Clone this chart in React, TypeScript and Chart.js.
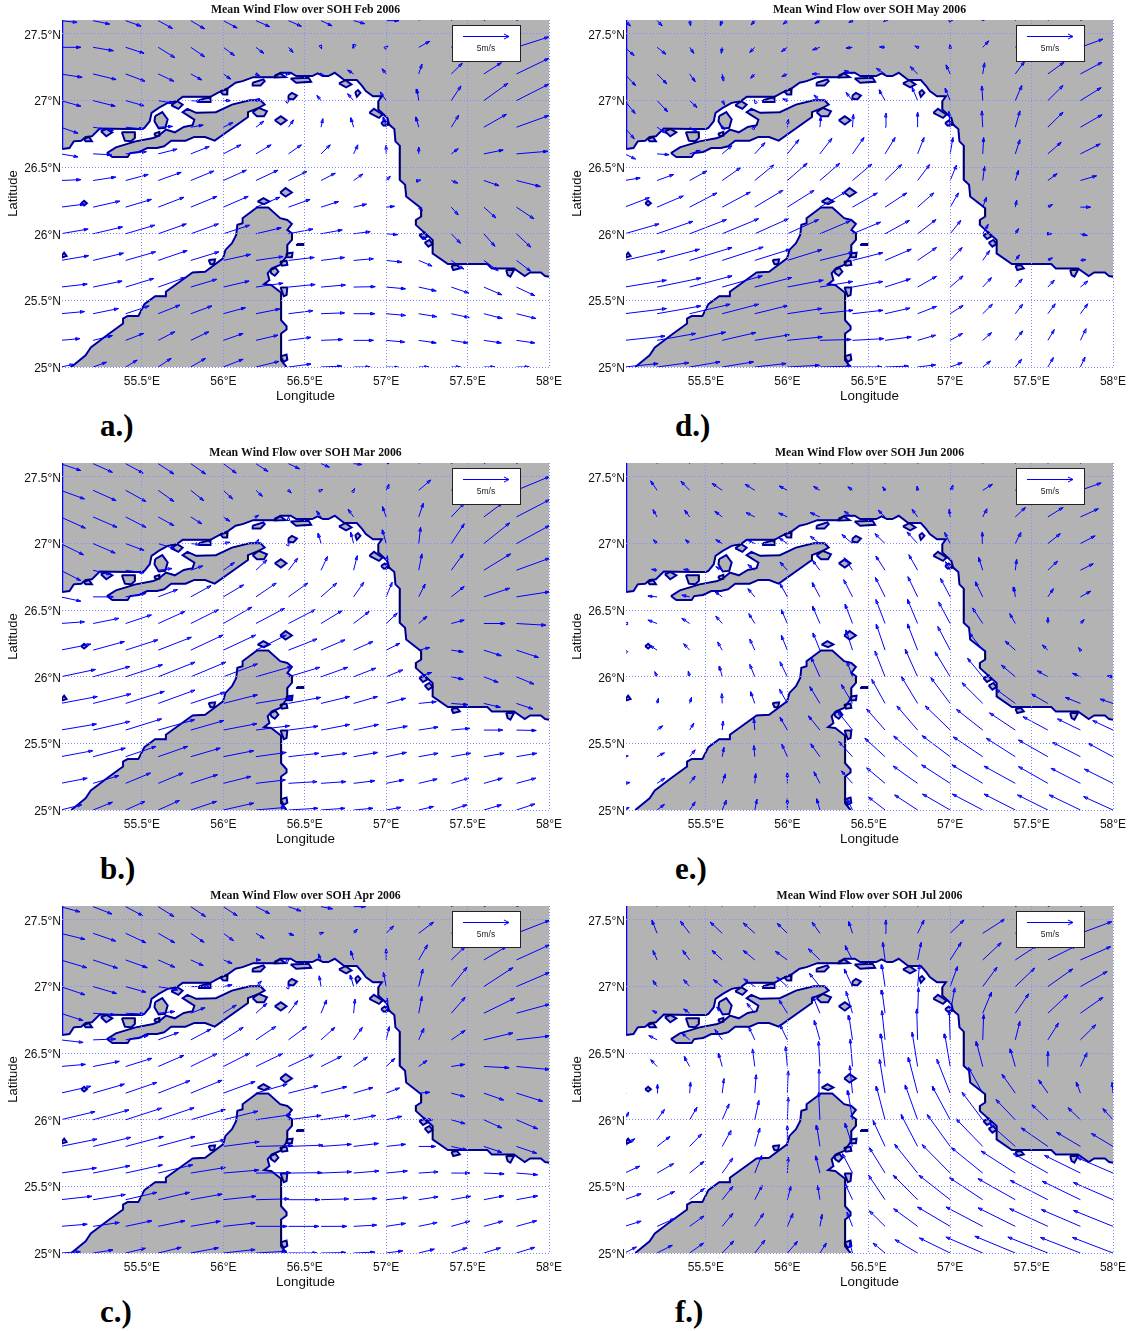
import React, { useEffect, useRef } from "react";
import { Chart, registerables } from "chart.js";

Chart.register(...registerables);

const LATS = [27.6, 27.4, 27.2, 27.0, 26.8, 26.6, 26.4, 26.2, 26.0, 25.8, 25.6, 25.4, 25.2, 25.0];
const LONS = [55, 55.2, 55.4, 55.6, 55.8, 56, 56.2, 56.4, 56.6, 56.8, 57, 57.2, 57.4, 57.6, 57.8, 58];
const LON_TICKS = [55.5, 56, 56.5, 57, 57.5, 58];
const LAT_TICKS = [25, 25.5, 26, 26.5, 27, 27.5];

// wind vectors: u,v pairs in m/s per row (north to south), per column (west to east)
const FEB = [
  [1.8,-.2,1.8,-.4,1.7,-.65,1.55,-.9,1.5,-.95,1.5,-.85,1.5,-.7,1.4,-.65,1.2,-.6,1.2,-.35,1.4,0,.5,.5,1,1,1.5,1,2,1],
  [2.2,0,2.2,-.4,2,-.7,1.8,-1.2,1.5,-1.1,1.2,-.95,.85,-.7,.5,-.6,.1,-.2,-.05,-.1,.2,.15,1.2,.7,1.5,1,2.5,1.2,3.5,1.2],
  [2.35,-.4,2.5,-.65,2.1,-.85,1.7,-.85,1.2,-.7,.8,-.6,.4,-.2,.2,0,-.1,.1,-.65,.45,-.45,.6,.35,1.15,1.2,1.25,1.9,1.3,3.5,1.8],
  [2.2,-.65,2.4,-.65,2,-.6,1.6,-.3,1.15,-.1,.8,0,.4,.25,.1,.1,-.45,.6,-.65,.8,-.65,1,-.2,1.35,1.05,1.7,2.6,2,3.5,1.9],
  [1.9,-.7,2.2,-.35,1.95,-.2,1.55,.1,1.35,.25,1.05,.55,.85,.7,.55,.85,.2,1,-.3,1.1,-.3,1.2,-.3,1.2,.8,1.4,2.45,1.5,3.5,1.35],
  [1.9,-.35,2,-.1,2.25,.25,2.05,.55,2,.85,1.9,1.05,1.65,1.05,1.4,1.05,1,1.05,.45,1.05,0,1,0,.8,.75,.6,2.1,.45,3.4,.3],
  [2.2,.1,2.45,.4,2.45,.7,2.5,.95,2.5,1.1,2.5,1.2,2.4,1.2,2,1.05,1.55,.85,1,.75,.45,.5,.2,.05,.7,-.3,1.65,-.6,2.6,-.7],
  [2.6,.35,2.9,.7,2.8,.9,2.8,1.15,2.85,1.25,2.7,1.25,2.6,1.15,2.35,.9,1.9,.65,1.4,.35,.9,.1,.4,-.4,.75,-.9,1.3,-1.25,1.9,-1.35],
  [3,.55,3.2,.8,3.15,1,3.05,1.15,3,1.15,2.85,1,2.75,.7,2.65,.55,2.3,.45,1.8,.25,1.25,-.1,.8,-.7,1,-1.1,1.2,-1.45,1.55,-1.55],
  [3.05,.55,3.3,.85,3.25,1,3.15,1.15,3.05,1,2.95,.7,2.95,.45,2.8,.35,2.55,.35,2.15,.2,1.7,-.2,1.45,-.65,1.35,-1,1.55,-1.2,1.55,-1.25],
  [2.9,.35,3.15,.7,3.05,1,2.9,1.1,2.8,.9,2.8,.7,2.95,.45,2.9,.3,2.65,.25,2.35,.05,2.1,-.2,1.9,-.45,1.9,-.7,1.95,-.9,2,-1],
  [2.6,.25,2.75,.6,2.55,.9,2.35,1,2.3,.9,2.4,.7,2.6,.55,2.65,.35,2.55,.1,2.3,0,2.1,-.2,1.95,-.35,1.95,-.45,2,-.55,2.1,-.55],
  [2.1,.2,2.1,.55,1.95,.8,1.8,1,1.95,1,2.15,.8,2.4,.6,2.45,.35,2.35,.1,2.15,0,2,-.2,1.9,-.3,1.8,-.3,1.9,-.3,2,-.3],
  [1.45,.3,1.45,.55,1.25,.8,1.4,1,1.6,1,2.15,.9,2.5,.65,2.45,.35,2.25,.1,1.8,0,1.4,-.05,1.1,0,1,0,1.2,0,1.4,0],
];
const MAR = [
  [2.2,-.8,2.1,-1,1.9,-1.1,1.7,-1.2,1.6,-1.2,1.4,-1.1,1.3,-.9,1.2,-.6,.9,-.4,.9,-.1,.5,.3,1,1,1.2,1,1.5,1,2,1.2],
  [2.6,-1,2.5,-1.2,2.2,-1.3,1.7,-1.3,1.4,-1.2,1,-1,.7,-.7,.3,-.3,.2,.1,.1,.2,.3,.7,1.3,1.2,1.6,1.5,2.5,1.8,3.6,1.6],
  [2.7,-1.3,2.6,-1.2,2.2,-1.2,1.7,-1,1.2,-.8,.7,-.5,.3,.2,0,.05,-.5,.7,-.6,.9,-.4,1.2,.5,1.6,1.4,1.6,2,1.6,3.6,2],
  [2.5,-1.3,2.4,-1.1,2,-.8,1.8,-.6,1,-.1,.7,.15,.3,.5,.1,.2,-.3,1.2,-.3,1.3,-.4,1.6,.2,1.9,1.4,2.3,2.8,2.4,3.6,2.1],
  [2.2,-1.2,1.9,-.5,2,-.3,1.5,.2,1.3,.5,1.2,.9,1.2,1.2,1,1.4,.7,1.6,.4,1.7,.1,1.7,.35,1.9,1.3,1.9,2.9,1.9,3.6,1.4],
  [2.2,-.5,2.2,0,2.2,.4,2.1,.85,2.2,1.3,2.2,1.4,2.2,1.6,2.1,1.6,1.7,1.6,1.1,1.7,.65,1.7,.7,1.5,1.4,1.2,2.8,1,3.6,.6],
  [2.6,.2,2.8,.6,2.8,1,2.9,1.4,3,1.6,3.1,1.9,3.1,1.75,2.9,1.6,2.3,1.5,1.7,1.4,1.2,1.2,.9,.85,1.4,.4,2.3,0,3.2,-.2],
  [3.3,.7,3.4,1,3.5,1.2,3.6,1.5,3.5,1.75,3.5,1.75,3.3,1.75,3.1,1.3,2.6,1.2,2.1,1,1.5,.8,1.2,.3,1.3,-.2,1.9,-.65,2.4,-.85],
  [3.8,.85,4,1.2,4,1.4,4,1.7,3.8,1.7,3.7,1.5,3.9,1.2,3.4,1.1,2.9,1.1,2.4,1,1.8,.8,1.4,.5,1.3,-.3,1.55,-.65,1.9,-.85],
  [4,.8,4.1,1.1,4.2,1.4,4,1.55,3.7,1.3,3.7,1,4,.7,3.5,.7,3.1,.8,2.6,.8,2.1,.6,1.9,.2,1.8,-.15,1.8,-.45,1.8,-.65],
  [3.9,.7,4,1,3.9,1.3,3.95,1.2,3.6,1.1,3.65,.75,3.65,.5,3.2,.45,3.1,.65,2.7,.65,2.3,.45,2.1,.35,2,.2,2.05,0,2.15,-.05],
  [3.5,.7,3.5,1,3.3,1.2,3.2,1.2,3.2,1,3.3,.7,3.3,.5,3.3,.4,2.8,.4,2.6,.5,2.2,.5,2.1,.4,2.1,.4,2.2,.4,2.2,.4],
  [2.9,.6,2.8,.9,2.7,1.2,2.7,1.2,2.9,1,3,.8,3.2,.4,3.1,.2,2.7,.2,2.3,.3,1.9,.4,2,.5,1.9,.6,2,.6,2.1,.6],
  [2.3,.6,2.1,.9,2.1,1,2.3,1.1,2.8,1,3.3,.8,3.2,.3,3.2,.2,2.6,.2,2.1,.2,1.6,.3,1.6,.4,1.7,.6,1.9,.6,2,.7],
];
const APR = [
  [2.1,-.6,2.05,-.85,1.85,-1.05,1.7,-1.15,1.6,-1.15,1.5,-1.05,1.5,-.8,1.35,-.5,1.25,-.25,1.3,0,.5,.5,1,1,1.5,1,2,1,2.5,1],
  [2.65,-.7,2.45,-.9,2.2,-1.1,1.8,-1.1,1.45,-1.05,1.1,-.85,.9,-.6,.6,-.25,.3,.1,.4,.5,.8,.85,1.6,1.3,1.7,1.5,2.5,1.7,3.6,1.5],
  [2.85,-.9,2.65,-.95,2.35,-.9,1.8,-.85,1.35,-.65,.95,-.4,.5,0,.1,.1,-.3,.7,-.3,1.05,0,1.3,.95,1.75,1.5,1.55,2.45,1.55,3.6,1.75],
  [2.65,-.95,2.55,-.8,2.2,-.65,2.1,-.4,2.1,0,.95,.2,.6,.65,.1,.2,-.2,1.25,-.35,1.35,-.3,1.65,.45,2.05,1.7,2.25,3.15,2.2,3.6,1.65],
  [2.45,-.85,2.4,-.2,2.05,-.1,1.8,.2,1.55,.65,1.4,.95,1.2,1.15,1,1.45,.6,1.55,.15,1.65,.1,1.75,.35,1.95,1.5,1.85,3.35,1.75,3.6,1.05],
  [2.45,-.3,2.45,.1,2.45,.5,2.2,.85,2.2,1.25,2.15,1.45,2.15,1.55,1.95,1.55,1.5,1.45,.95,1.45,.35,1.55,.55,1.35,1.5,1.1,3.15,.8,3.6,.45],
  [2.7,.25,2.85,.6,2.85,.95,2.8,1.3,2.85,1.5,2.85,1.55,2.9,1.5,2.7,1.35,2.25,1.2,1.5,1.1,.95,.95,.9,.7,1.45,.25,2.75,-.15,3.6,-.35],
  [3.3,.8,3.4,1.05,3.4,1.25,3.45,1.45,3.4,1.5,3.45,1.35,3.4,1.05,3.2,.85,2.8,.75,2.1,.65,1.45,.6,1.2,.1,1.45,-.4,2.15,-.8,2.85,-.95],
  [3.75,.95,3.9,1.15,3.9,1.35,3.9,1.4,3.75,1.2,3.75,1,3.8,.6,3.55,.5,3.1,.5,2.4,.5,1.7,.4,1.5,0,1.5,-.45,1.95,-.95,2.3,-1.05],
  [3.95,.85,4.1,1.05,4.1,1.15,4,1.15,3.7,.75,3.9,.55,4,.1,3.75,.15,3.3,.25,2.7,.35,2.1,.25,1.85,0,1.7,-.4,1.95,-.7,2.2,-.8],
  [3.9,.6,4,.85,4,.95,3.75,.95,3.75,.65,3.85,.35,3.8,.05,3.65,.05,3.3,.15,2.75,.25,2.3,.25,2.1,.15,2,0,2.2,-.1,2.3,-.2],
  [3.4,.4,3.5,.6,3.4,.85,3.4,.85,3.4,.65,3.55,.4,3.6,.1,3.4,0,3,.1,2.55,.15,2.3,.25,2.1,.35,2.1,.4,2.15,.45,2.3,.45],
  [2.9,.25,2.85,.45,2.85,.65,2.9,.65,3.2,.6,3.45,.4,3.4,0,3.3,0,2.8,0,2.5,.15,2.1,.35,2,.45,2,.6,2.05,.6,2.2,.65],
  [2.15,.15,2.15,.35,2.15,.55,2.5,.65,3,.6,3.45,.4,3.3,.2,3.1,0,2.7,.05,2.3,.1,1.8,.25,1.7,.45,1.7,.6,1.8,.6,2,.65],
];
const MAY = [
  [.65,-.6,.55,-.6,.1,-.6,-.2,-.6,-.4,-.5,-.45,-.4,-.55,-.3,-.4,-.2,-.15,-.1,0,0,.3,.1,.1,.5,.6,.8,1,1,1.8,1],
  [1.05,-.95,.95,-.8,.45,-.7,-.1,-.7,-.55,-.6,-.65,-.5,-.8,-.3,-.7,-.1,-.6,.05,-.3,.15,0,.35,.65,.75,1,1,1.7,1.2,2.45,.95],
  [1.2,-1.35,1.05,-1.15,.6,-.9,.1,-.8,-.45,-.5,-.6,-.3,-.85,0,-.9,.4,-.95,.65,-.8,.85,-.45,1.05,.2,1.3,1,1.45,1.75,1.35,2.35,1.35],
  [1.15,-1.5,1.15,-1.3,.8,-.8,.25,-.5,-.05,.1,-.5,.2,-.65,.65,-.7,.95,-.65,1.25,-.6,1.55,-.55,1.45,-.1,1.7,.7,1.75,1.65,1.75,2.25,1.5],
  [1.05,-1.35,1,-.7,.8,-.5,.3,-.25,.1,.1,.1,.95,.1,1.25,.1,1.5,.1,1.65,0,1.75,-.15,1.85,-.1,1.9,.5,1.9,1.65,1.75,2.35,1.45],
  [1.2,-.6,1.3,-.1,1.15,.4,1.05,.95,1.1,1.3,1.25,1.65,1.3,1.8,1.25,1.9,1.1,1.9,.7,1.9,.3,1.9,.1,1.9,.5,1.65,1.45,1.35,2.15,1.15],
  [1.7,.3,1.8,.7,1.85,1.1,2,1.5,2.05,1.8,2.15,2,2.15,2,2.1,1.9,1.8,1.85,1.3,1.85,.7,1.8,.2,1.65,.35,1.2,1,.8,1.75,.55],
  [2.7,1.1,2.85,1.3,2.95,1.65,3.05,1.75,3.05,1.95,2.9,1.95,2.85,1.8,2.7,1.65,2.35,1.65,1.75,1.65,.9,1.65,.4,1.15,.15,.8,.5,.3,1.1,0],
  [3.75,1.15,3.9,1.45,4,1.65,3.95,1.75,3.65,1.75,3.4,1.65,3.3,1.5,3.05,1.35,2.65,1.55,2,1.65,1.15,1.55,.6,1.1,.35,.6,.4,0,.75,-.2],
  [4.4,1.1,4.6,1.3,4.6,1.5,4.45,1.55,3.85,1.3,3.75,1.25,3.6,.95,3.3,.9,2.85,1.3,2.05,1.5,1.3,1.5,.75,1.15,.45,.65,.5,.3,.6,.1],
  [4.55,.8,4.75,1.05,4.6,1.3,4.35,1.3,4,1.1,3.9,.8,3.55,.65,3.3,.65,2.75,.95,2.05,1.25,1.4,1.3,.95,1.1,.75,.95,.7,.8,.8,.7],
  [4.55,.6,4.75,.9,4.4,1.1,3.95,1.1,3.6,.95,3.75,.6,3.6,.4,3.3,.4,2.7,.65,2.05,.85,1.4,.95,1.05,1.1,.8,1.1,.8,1.15,.8,1.15],
  [4.4,.5,4.2,.8,3.9,.95,3.65,.9,3.75,.65,3.8,.4,3.4,.1,3.4,.2,2.85,.4,1.95,.6,1.35,.8,.95,.9,.8,1.1,.7,1.25,.6,1.35],
  [3.65,.4,3.45,.5,3.3,.6,3.4,.6,3.4,.4,3.5,.2,3.4,.1,3.2,0,2.55,.1,1.95,.25,1.3,.5,.85,.7,.7,.9,.6,1.1,.5,1.15],
];
const JUN = [
  [-.1,.5,-.3,.6,-.3,.6,-.3,.6,-.3,.6,-.3,.6,-.2,.6,-.1,.6,0,.6,.1,.6,.2,.6,.3,.6,.4,.6,.5,.6,.5,.6,0,0],
  [-.2,.3,-.7,1.1,-.95,1.05,-1.1,.8,-1.05,.7,-.9,.5,-.7,.45,-.5,.4,-.25,.4,-.05,.5,.3,.6,1.05,.7,1.3,.9,1.9,1,2.25,.85,0,0],
  [-.1,.3,-.45,.85,-.55,.8,-.8,.65,-.95,.5,-.95,.45,-1.05,.5,-.9,.65,-.75,.8,-.6,.9,-.1,.9,.45,.95,1.1,1.1,1.65,1.1,1.95,.95,0,0],
  [0,.1,-.4,.45,-.45,.45,-.7,.45,-.8,.45,-.9,.65,-1.05,.85,-1.15,1.05,-1.1,1.15,-1.15,1.35,-.6,1.3,-.05,1.35,.6,1.3,1.35,1.15,1.6,.9,0,0],
  [0,.05,-.6,.1,-.65,.1,-.7,.4,-.75,.65,-.8,.95,-.8,1.15,-.9,1.45,-1,1.65,-.95,1.8,-.5,1,-.45,1.5,.15,1.25,1.05,1.05,1.4,.75,0,0],
  [0,0,-1,.1,-.85,.2,-.8,.6,-.75,.95,-.8,1.55,-.85,1.65,-.95,2,-1.05,2.25,-1.05,2.35,-1.05,2.15,-.8,1.75,-.15,1.15,.6,.95,1.1,.65,0,0],
  [-.1,0,-1,.4,-.85,.6,-.7,.85,-.65,1.15,-.65,1.6,-.8,2,-.8,2.25,-1,2.8,-1.1,2.8,-1.25,2.5,-1.1,1.8,-.6,1.15,0,.7,.4,.45,0,0],
  [-.05,.05,-.8,.55,-.65,.75,-.5,.95,-.55,1.3,-.65,1.7,-.75,2,-.7,2.35,-.95,3,-1.1,3.05,-1.35,2.75,-1.45,2,-1.1,1.05,-.6,.6,-.2,.3,0,0],
  [0,.1,-.25,.6,-.15,.65,-.3,1.25,-.55,1.45,-.8,1.75,-.95,2.25,-.6,1.75,-1.1,3,-1.35,3.2,-1.65,2.9,-1.65,2.15,-1.5,1.35,-1.15,.7,-.85,.4,-.6,.1],
  [0,.1,.15,.6,.2,.7,-.05,1.15,-.45,1.35,-.85,1.65,-1.1,1.95,-1.2,2.2,-1.45,2.8,-1.75,3.1,-2.1,3,-2.25,2.4,-2.1,1.65,-1.8,1.1,-1.65,.7,-1.4,.5],
  [.05,.05,.6,.5,.45,.8,.1,1.05,-.1,1.35,-.8,1.5,-1.25,1.65,-1.6,2.15,-2,2.45,-2.25,2.8,-2.7,2.8,-2.85,2.4,-2.8,2,-2.7,1.55,-2.5,1.3,-2.2,1.1],
  [.4,.1,.8,.45,.6,.8,.2,1.1,-.1,1.3,-.6,1.45,-1,1.5,-1.5,1.75,-2.2,2.15,-2.6,2.4,-3.05,2.45,-3.2,2.3,-3.15,2.15,-3.2,1.95,-3,1.65,-2.7,1.55],
  [.6,.1,.85,.6,.6,.85,.35,1.1,.1,1.15,0,1.25,-.65,1.35,-1.2,1.45,-2,1.8,-2.65,2,-3.1,2.15,-3.35,2.15,-3.4,2,-3.2,1.95,-3.2,1.75,-3.1,1.65],
  [.5,.3,.8,.65,.6,.95,.45,1.15,.25,1.25,0,1.3,-.35,1.3,-.6,1.35,-1.8,1.5,-2.5,1.75,-3,1.85,-3.3,1.85,-3.4,1.85,-3.3,1.75,-3.4,1.75,-3.2,1.55],
];
const JUL = [
  [-.1,.8,-.4,1,-.6,1,-.6,1,-.6,1,-.4,1,-.2,1,0,1,.3,1,.5,1,.8,1,1.2,1,1.5,1,1.8,1,2,1,0,0],
  [0,.3,-.55,1.5,-1,1.4,-1.3,1.3,-1.25,1.2,-1.1,1.15,-.85,1.3,-.4,1.35,.1,1.55,.7,1.55,1.5,1.55,2.4,1.65,2.6,1.7,3,1.7,3.4,1.35,0,0],
  [0,.8,-.45,1.1,-.75,1.1,-1.1,1.1,-1.25,1.1,-1.3,1,-1.25,1.3,-.8,1.65,-.25,2.05,.4,2.05,1.2,2.05,2,2,2.4,1.7,3.1,1.65,3.3,1.55,0,0],
  [0,.2,-.45,.7,-.65,.8,-.95,.8,-1.2,.9,-1.15,1.1,-1.15,1.55,-.9,2.05,-.35,2.55,.2,2.55,.8,2.35,1.55,2.25,2.1,2.15,2.7,2.05,2.9,1.75,0,0],
  [0,.05,-.5,.3,-.65,.5,-.6,.7,-.85,1.15,-.9,1.55,-.75,1.95,-.7,2.55,-.35,2.7,.1,3,.5,2.95,.95,2.45,1.45,2.25,2.15,2.15,2.45,1.85,0,0],
  [0,0,-.9,.5,-.85,.8,-.8,1.2,-.65,1.5,-.8,1.75,-.6,2.25,-.4,2.85,-.35,3.4,-.1,3.6,-.1,3.4,.1,2.95,.5,2.15,1.15,1.95,1.65,1.75,0,0],
  [0,0,-.7,.8,-.6,1.15,-.4,1.55,-.25,2.05,-.2,2.35,-.15,2.95,-.25,3.2,-.45,3.8,-.6,4,-.6,3.8,-.7,2.9,-.55,2.05,0,1.75,.7,1.6,0,0],
  [0,.4,.05,1.05,.1,1.3,.2,1.7,.15,2.15,.1,2.6,-.1,2.8,-.3,3.2,-.6,3.95,-1,4.15,-1.45,3.95,-1.55,3,-1.45,2.2,-1,1.55,-.45,1.3,-.1,1.25],
  [.45,.9,.8,1.2,.8,1.45,.75,1.85,.45,2.25,.1,2.65,-.15,3.2,-.5,3.4,-.95,3.9,-1.35,4.05,-1.95,3.9,-2.25,3.2,-2.1,2.35,-1.75,1.75,-1.35,1.4,-1.1,1.3],
  [1.1,.9,1.4,1.15,1.3,1.45,.95,1.85,.55,2.15,0,2.45,-.35,2.45,-.8,2.7,-1.3,3,-1.8,3.7,-2.5,3.7,-2.9,3.2,-2.8,2.65,-2.9,2.15,-2.6,1.65,-2.35,1.5],
  [1.65,.8,1.8,1.1,1.55,1.35,1.15,1.75,.75,2.05,.1,1.85,-.45,2,-1.1,2.25,-1.7,2.95,-2.5,3.35,-3.05,3.3,-3.4,2.95,-3.7,2.55,-3.75,2.25,-3.9,2.05,-3.9,1.8],
  [1.8,.7,1.9,.95,1.6,1.3,1.15,1.55,.8,1.65,.4,1.6,-.25,1.65,-.8,1.85,-1.8,2.85,-2.65,2.85,-3.4,2.85,-3.6,2.55,-4.05,2.45,-4.1,2.25,-4.15,2.15,-4.3,2],
  [1.8,.6,1.9,.9,1.55,1.2,1.15,1.5,.95,1.5,.6,1.5,.25,1.4,-.6,1.65,-1.7,1.8,-2.6,2.05,-3.55,2.25,-4,2.25,-4.05,2.15,-4.15,2.05,-4.25,1.95,-4.3,1.85],
  [1.3,.7,1.65,.9,1.5,1.15,1.25,1.4,1.1,1.5,1.1,1.35,.7,1.15,-.3,1.2,-1.3,1.15,-2.45,1.55,-3.35,1.75,-4,1.85,-4.4,1.95,-4.35,1.85,-4.35,1.8,-4.4,1.8],
];

// coastlines in lon,lat
const NORTH_COAST = [55.01,26.637,55.055,26.644,55.081,26.694,55.127,26.699,55.154,26.727,55.193,26.732,55.241,26.79,55.412,26.787,55.5,26.787,55.515,26.795,55.548,26.845,55.559,26.908,55.603,26.945,55.658,26.983,55.713,26.995,55.75,27.028,55.921,27.028,55.965,27.058,56.031,27.096,56.075,27.134,56.118,27.146,56.184,27.176,56.316,27.176,56.349,27.209,56.414,27.209,56.447,27.184,56.546,27.184,56.579,27.204,56.612,27.184,56.645,27.184,56.684,27.209,56.743,27.154,56.82,27.154,56.853,27.108,56.875,27.071,56.919,27.033,56.974,27.033,56.952,26.995,56.952,26.933,57.007,26.87,57.018,26.82,57.05,26.787,57.057,26.694,57.083,26.662,57.083,26.406,57.116,26.368,57.123,26.28,57.215,26.192,57.215,26.13,57.182,26.104,57.182,26.067,57.285,25.954,57.285,25.853,57.379,25.773,57.621,25.773,57.649,25.74,57.785,25.74,57.851,25.683,57.884,25.71,57.95,25.71,57.976,25.683,58,25.678];
const NORTH_CORNERS = [58,27.605,55,27.605,55,26.637];
const WEST_EDGE = [55.009,26.637,55.009,27.605];
const MUSANDAM = [55.066,25,55.154,25.088,55.186,25.146,55.285,25.238,55.384,25.326,55.384,25.364,55.412,25.382,55.478,25.382,55.515,25.472,55.581,25.532,55.647,25.532,55.647,25.565,55.811,25.71,55.888,25.715,55.998,25.816,56.013,25.879,56.053,25.929,56.079,25.991,56.086,26.067,56.118,26.079,56.118,26.117,56.206,26.197,56.276,26.197,56.349,26.117,56.393,26.104,56.421,26.074,56.393,26.029,56.421,26.004,56.421,25.954,56.393,25.916,56.393,25.841,56.349,25.766,56.298,25.74,56.272,25.703,56.283,25.653,56.25,25.622,56.294,25.615,56.355,25.557,56.355,25.351,56.388,25.306,56.388,25.281,56.355,25.251,56.355,25.05,56.388,25];
const QESHM = [55.285,26.606,55.34,26.649,55.461,26.694,55.57,26.719,55.603,26.737,55.647,26.782,55.702,26.762,55.757,26.802,55.811,26.815,55.822,26.857,55.75,26.913,55.779,26.938,55.833,26.908,55.954,26.913,56.053,26.97,56.162,27.003,56.228,27.003,56.254,26.97,56.217,26.945,56.151,26.913,56.151,26.877,55.947,26.699,55.888,26.727,55.822,26.727,55.768,26.699,55.68,26.699,55.636,26.657,55.592,26.644,55.533,26.644,55.482,26.614,55.428,26.606,55.412,26.576,55.318,26.576];
const ISLANDS = [
  [55.143,26.712,55.175,26.727,55.193,26.694,55.154,26.694],
  [55.248,26.77,55.281,26.787,55.318,26.762,55.281,26.732],
  [55.377,26.762,55.456,26.762,55.456,26.719,55.434,26.694,55.395,26.699],
  [55.68,26.965,55.717,26.995,55.75,26.97,55.724,26.938],
  [55.581,26.883,55.625,26.913,55.658,26.858,55.643,26.795,55.603,26.79,55.577,26.845],
  [55.575,26.752,55.607,26.765,55.607,26.737,55.586,26.732],
  [55.851,27.003,55.921,27.028,55.921,26.99,55.851,26.99],
  [55.98,27.071,56.026,27.083,56.024,27.046,55.998,27.046],
  [56.18,27.134,56.246,27.159,56.254,27.146,56.228,27.113,56.18,27.113],
  [56.316,27.189,56.349,27.204,56.382,27.176,56.316,27.174],
  [56.414,27.166,56.524,27.171,56.539,27.141,56.447,27.134],
  [56.71,27.129,56.75,27.154,56.787,27.121,56.754,27.1],
  [56.81,27.063,56.827,27.079,56.842,27.058,56.82,27.028],
  [56.4,27.038,56.421,27.058,56.452,27.038,56.43,27.008,56.403,27.013],
  [56.18,26.913,56.217,26.945,56.268,26.92,56.25,26.882,56.206,26.882],
  [56.316,26.852,56.353,26.882,56.388,26.852,56.353,26.82],
  [56.211,26.242,56.246,26.268,56.283,26.242,56.25,26.222],
  [56.349,26.31,56.382,26.343,56.421,26.31,56.382,26.28],
  [55.127,26.23,55.145,26.248,55.162,26.23,55.145,26.212],
  [55.01,25.841,55.022,25.858,55.037,25.833,55.01,25.823],
  [55.91,25.803,55.949,25.808,55.943,25.773,55.921,25.771],
  [56.289,25.728,56.32,25.745,56.338,25.715,56.316,25.685,56.294,25.703],
  [56.349,25.791,56.388,25.798,56.393,25.766,56.36,25.761],
  [56.388,25.853,56.425,25.858,56.421,25.823,56.388,25.823],
  [56.452,25.924,56.491,25.924,56.491,25.916,56.452,25.916],
  [57.204,25.991,57.237,26.009,57.252,25.979,57.226,25.961],
  [57.237,25.934,57.265,25.954,57.285,25.924,57.259,25.904],
  [57.401,25.758,57.434,25.766,57.452,25.74,57.412,25.728],
  [57.737,25.728,57.785,25.728,57.763,25.678,57.746,25.69],
  [56.351,25.597,56.393,25.597,56.388,25.54,56.371,25.532],
  [56.351,25.08,56.388,25.093,56.393,25.055,56.371,25.038],
  [56.897,26.908,56.925,26.938,56.978,26.895,56.956,26.87],
  [56.969,26.832,56.991,26.85,57.018,26.82,56.985,26.812],
];

const PANELS = [
  { month: "Feb", tag: "a.)", wind: FEB, col: 0, row: 0 },
  { month: "Mar", tag: "b.)", wind: MAR, col: 0, row: 1 },
  { month: "Apr", tag: "c.)", wind: APR, col: 0, row: 2 },
  { month: "May", tag: "d.)", wind: MAY, col: 1, row: 0 },
  { month: "Jun", tag: "e.)", wind: JUN, col: 1, row: 1 },
  { month: "Jul", tag: "f.)", wind: JUL, col: 1, row: 2 },
];

const BLUE = "#0000ff";
const LAND = "#b3b3b3";
const PX_PER_LON = 162.8;
const PX_PER_LAT = 133.2;
const U_PX = 9.2;
const V_PX = 8.6;
const SANS = "'Liberation Sans', Arial, sans-serif";
const SERIF = "'Liberation Serif', 'Times New Roman', serif";

const toPts = (a: number[]) => {
  const out: { x: number; y: number }[] = [];
  for (let i = 0; i < a.length; i += 2) out.push({ x: a[i], y: a[i + 1] });
  return out;
};

function arrowPoints(wind: number[][]) {
  const pts: any[] = [];
  wind.forEach((row, r) => {
    for (let c = 0; c * 2 < row.length; c++) {
      const dx = row[c * 2] * U_PX;
      const dy = row[c * 2 + 1] * V_PX;
      const len = Math.hypot(dx, dy);
      if (len === 0) continue;
      const ux = dx / len, uy = dy / len;
      const x0 = LONS[c], y0 = LATS[r];
      const tip = (px: number, py: number) => ({ x: x0 + px / PX_PER_LON, y: y0 + py / PX_PER_LAT });
      const hl = 4, hw = 1.3;
      pts.push(tip(0, 0));
      pts.push(tip(dx, dy));
      pts.push(tip(dx - ux * hl - uy * hw, dy - uy * hl + ux * hw));
      pts.push(tip(dx - ux * hl + uy * hw, dy - uy * hl - ux * hw));
      pts.push(tip(dx, dy));
      pts.push({ x: null, y: null });
    }
  });
  return pts;
}

const base = { pointRadius: 0, pointHoverRadius: 0, tension: 0, spanGaps: false };

function landDatasets() {
  const ds: any[] = [];
  const fillShape = (a: number[]) =>
    ds.push({ ...base, type: "line", data: toPts([...a, a[0], a[1]]), borderWidth: 0, borderColor: "rgba(0,0,0,0)", backgroundColor: LAND, fill: "shape", order: 5 });
  const outline = (a: number[], closed: boolean) => {
    const data = toPts(closed ? [...a, a[0], a[1]] : a);
    ds.push({ ...base, type: "line", data, borderWidth: 2, borderColor: BLUE, fill: false, order: 4 });
    ds.push({ ...base, type: "line", data, borderWidth: 1, borderColor: "#000033", fill: false, order: 3 });
  };
  fillShape([...NORTH_COAST, ...NORTH_CORNERS]);
  fillShape(MUSANDAM);
  fillShape(QESHM);
  ISLANDS.forEach(fillShape);
  outline(NORTH_COAST, false);
  outline(MUSANDAM, false);
  outline(QESHM, true);
  ISLANDS.forEach((i) => outline(i, true));
  ds.push({ ...base, type: "line", data: toPts(WEST_EDGE), borderWidth: 2.5, borderColor: BLUE, fill: false, order: 2 });
  return ds;
}

const keyPlugin = {
  id: "key",
  afterDraw(chart: any) {
    const c = chart.ctx;
    const a = chart.chartArea;
    const L = a.left + 390, T = a.top + 5, W = 68, H = 36;
    c.save();
    c.fillStyle = "#fff";
    c.strokeStyle = "#222";
    c.lineWidth = 1;
    c.fillRect(L, T, W, H);
    c.strokeRect(L + 0.5, T + 0.5, W, H);
    const y = T + 11.5, x0 = L + 11, x1 = x0 + 5 * U_PX;
    c.strokeStyle = BLUE;
    c.beginPath();
    c.moveTo(x0, y);
    c.lineTo(x1, y);
    c.moveTo(x1 - 5, y - 2.5);
    c.lineTo(x1, y);
    c.lineTo(x1 - 5, y + 2.5);
    c.stroke();
    c.fillStyle = "#222";
    c.font = `8.5px ${SANS}`;
    c.textAlign = "center";
    c.textBaseline = "middle";
    c.fillText("5m/s", L + 34, T + 24);
    c.restore();
  },
};

function Panel({ panel }: { panel: (typeof PANELS)[number] }) {
  const ref = useRef<HTMLCanvasElement>(null);
  useEffect(() => {
    const grid = { color: "#8888ff", lineWidth: 1, drawTicks: false, z: 1 };
    const border = { display: false, dash: [1, 2] };
    const chart = new Chart(ref.current!, {
      type: "line",
      data: {
        datasets: [
          ...landDatasets(),
          { ...base, type: "line", data: arrowPoints(panel.wind), borderWidth: 1, borderColor: BLUE, fill: false, order: 1 },
        ],
      },
      plugins: [keyPlugin],
      options: {
        animation: false,
        responsive: false,
        devicePixelRatio: 1,
        events: [],
        layout: { padding: { right: 61, left: 0, top: 0, bottom: 0 } },
        plugins: {
          legend: { display: false },
          tooltip: { enabled: false },
          title: {
            display: true,
            fullSize: false,
            text: `Mean Wind Flow over SOH ${panel.month} 2006`,
            color: "#111",
            font: { family: SERIF, size: 11.8, weight: "bold", lineHeight: 1.2 },
            padding: { top: 3, bottom: 2.84 },
          },
        },
        scales: {
          x: {
            type: "linear",
            min: 55.009,
            max: 58,
            grid,
            border,
            afterBuildTicks: (s: any) => { s.ticks = LON_TICKS.map((value) => ({ value })); },
            afterFit: (s: any) => { s.height = 38; },
            ticks: {
              color: "#111", padding: 7, maxRotation: 0, autoSkip: false,
              font: { family: SANS, size: 12 },
              callback: (v: any) => `${v}°E`,
            },
            title: {
              display: true, text: "Longitude", color: "#111",
              font: { family: SANS, size: 13.4, lineHeight: 1.2 },
              padding: { top: 0, bottom: 1 },
            },
          },
          y: {
            type: "linear",
            min: 25,
            max: 27.605,
            grid,
            border,
            afterBuildTicks: (s: any) => { s.ticks = LAT_TICKS.map((value) => ({ value })); },
            afterFit: (s: any) => { s.width = 62; },
            ticks: {
              color: "#111", padding: 1, autoSkip: false, labelOffset: 1.5,
              font: { family: SANS, size: 12 },
              callback: (v: any) => `${v}°N`,
            },
            title: {
              display: true, text: "Latitude", color: "#111",
              font: { family: SANS, size: 13, lineHeight: 1.2 },
              padding: { top: 6, bottom: 0 },
            },
          },
        },
      },
    } as any);
    return () => chart.destroy();
  }, [panel]);
  const left = panel.col * 564;
  const top = panel.row * 443;
  return (
    <>
      <canvas ref={ref} width={610} height={405} style={{ position: "absolute", left, top, width: 610, height: 405 }} />
      <div
        style={{
          position: "absolute",
          left: panel.col ? 675 : 100,
          top: top + 410,
          font: `bold 31px/32px ${SERIF}`,
          color: "#000",
        }}
      >
        {panel.tag}
      </div>
    </>
  );
}

export default function App() {
  return (
    <div style={{ position: "absolute", left: 0, top: 0, width: 1131, height: 1331, background: "#fff", overflow: "hidden" }}>
      {PANELS.map((p) => (
        <Panel key={p.month} panel={p} />
      ))}
    </div>
  );
}
